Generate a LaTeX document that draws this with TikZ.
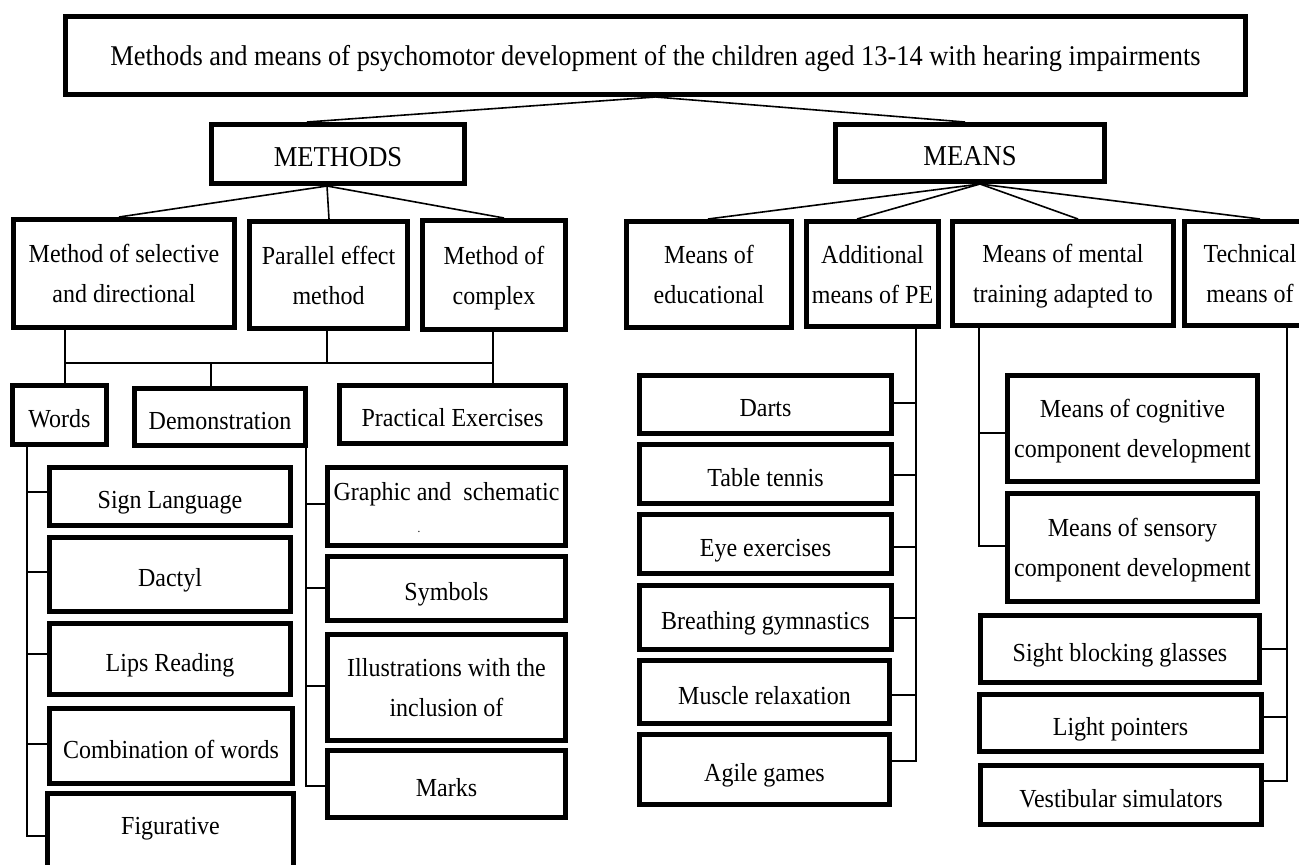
\documentclass[tikz,border=0pt]{standalone}
\usepackage{fontspec}
\setmainfont{Liberation Serif}[FakeStretch=0.923]
\usetikzlibrary{calc}
% box from outer pixel edges: options, name, x1, y1, x2, y2, text
\newcommand\bxnode[7][]{%
  \pgfmathsetmacro\bxX{(#3+#5)/2}\pgfmathsetmacro\bxY{(#4+#6)/2}%
  \pgfmathsetmacro\bxW{(#5-#3-5)*0.5}\pgfmathsetmacro\bxH{(#6-#4-5)*0.5}%
  \node[bx,minimum width=\bxW pt,minimum height=\bxH pt,#1] (#2) at (\bxX,\bxY) {#7};}
% branch: anchor, trunk x, y
\newcommand\brline[3]{\draw[ln] (#1 |- 0,#3) -- (#2,#3);}
\begin{document}
\begin{tikzpicture}[x=0.5pt,y=-0.5pt,
  bx/.style={draw,line width=2.5pt,inner sep=0pt,align=center,text depth=0pt,
    font=\fontsize{13}{20}\selectfont},
  one/.style={text height=12pt},
  head/.style={text height=12pt,font=\fontsize{14.4}{20}\selectfont},
  ln/.style={line width=0.8pt}]
\useasboundingbox (0,0) rectangle (1299,864);
\clip (0,0) rectangle (1299,864);
% top levels
\bxnode[text height=9.5pt,font=\fontsize{14.3}{20}\selectfont]{title}{63}{14}{1248}{97}{Methods and means of psychomotor development of the children aged 13-14 with hearing impairments}
\bxnode[head]{methods}{209}{122}{467}{186}{METHODS}
\bxnode[head]{means}{833}{122}{1107}{184}{MEANS}
% second row
\bxnode{sel}{11}{217}{237}{330}{Method of selective\\and directional}
\bxnode{par}{247}{219}{410}{331}{Parallel effect\\method}
\bxnode{cplx}{420}{218}{568}{332}{Method of\\complex}
\bxnode{edu}{624}{219}{794}{330}{Means of\\educational}
\bxnode{add}{804}{219}{941}{329}{Additional\\means of PE}
\bxnode{mental}{950}{219}{1176}{328}{Means of mental\\training adapted to}
\bxnode{tech}{1182}{219}{1318}{328}{Technical\\means of}
% third row
\bxnode[one]{words}{10}{383}{109}{447}{Words}
\bxnode[one]{demo}{132}{386}{308}{448}{Demonstration}
\bxnode[one]{pract}{337}{383}{568}{446}{Practical Exercises}
% words children
\bxnode[one]{sign}{47}{465}{293}{528}{Sign Language}
\bxnode[one]{dactyl}{47}{535}{293}{614}{Dactyl}
\bxnode[one]{lips}{47}{621}{293}{697}{Lips Reading}
\bxnode[one]{comb}{47}{706}{295}{786}{Combination of words}
\bxnode[text height=9pt,text depth=5.5pt]{fig}{45}{791}{296}{870}{Figurative}
% demonstration children
\bxnode[text height=8pt,text depth=14.5pt]{graphic}{325}{465}{568}{548}{Graphic and\ \ schematic}
\node[font=\fontsize{6}{6}\selectfont,inner sep=0pt] (gdot) at (419,532) {.};
\bxnode[one]{symbols}{325}{554}{568}{623}{Symbols}
\bxnode{illus}{325}{632}{568}{743}{Illustrations with the\\inclusion of}
\bxnode[one]{marks}{325}{748}{568}{820}{Marks}
% additional means children
\bxnode[one]{darts}{637}{373}{894}{436}{Darts}
\bxnode[one]{table}{637}{442}{894}{506}{Table tennis}
\bxnode[one]{eye}{637}{512}{894}{576}{Eye exercises}
\bxnode[one]{breath}{637}{583}{894}{652}{Breathing gymnastics}
\bxnode[one]{muscle}{637}{658}{892}{726}{Muscle relaxation}
\bxnode[one]{agile}{637}{732}{892}{807}{Agile games}
% mental training children
\bxnode{cog}{1005}{373}{1260}{484}{Means of cognitive\\component development}
\bxnode{sens}{1005}{491}{1260}{604}{Means of sensory\\component development}
% technical children
\bxnode[one]{sight}{978}{613}{1262}{685}{Sight blocking glasses}
\bxnode[one]{light}{977}{692}{1264}{754}{Light pointers}
\bxnode[one]{vest}{978}{763}{1264}{827}{Vestibular simulators}
% connectors: title
\draw[ln] (title.south) -- ([xshift=-15.5pt]methods.north);
\draw[ln] (title.south) -- ([xshift=-2.5pt]means.north);
% methods fan
\coordinate (ma) at ([xshift=-5.5pt]methods.south);
\draw[ln] (ma) -- (sel.north -| 119,0);
\draw[ln] (ma) -- (par.north -| 329,0);
\draw[ln] (ma) -- (cplx.north -| 504,0);
% means fan
\coordinate (na) at ([xshift=5pt]means.south);
\draw[ln] (na) -- (edu.north -| 708,0);
\draw[ln] (na) -- (add.north -| 857,0);
\draw[ln] (na) -- (mental.north -| 1078,0);
\draw[ln] (na) -- (tech.north -| 1260,0);
% methods bus
\coordinate (busL) at (65,363);
\coordinate (busR) at (493,363);
\coordinate (busM) at (327,363);
\coordinate (busD) at (211,363);
\draw[ln] (sel.south -| busL) -- (words.north -| busL);
\draw[ln] (busL) -- (busR);
\draw[ln] (par.south -| busM) -- (busM);
\draw[ln] (cplx.south -| busR) -- (pract.north -| busR);
\draw[ln] (busD) -- (demo.north -| busD);
% words tree
\draw[ln] (words.south -| 27,0) |- (fig.west |- 0,836);
\brline{sign.west}{27}{492}
\brline{dactyl.west}{27}{572}
\brline{lips.west}{27}{654}
\brline{comb.west}{27}{744}
% demonstration tree
\draw[ln] (demo.south -| 306,0) |- (marks.west |- 0,786);
\brline{graphic.west}{306}{504}
\brline{symbols.west}{306}{588}
\brline{illus.west}{306}{686}
% additional means tree
\draw[ln] (add.south -| 916,0) |- (agile.east |- 0,761);
\brline{darts.east}{916}{403}
\brline{table.east}{916}{475}
\brline{eye.east}{916}{547}
\brline{breath.east}{916}{618}
\brline{muscle.east}{916}{695}
% mental training tree
\draw[ln] (mental.south -| 979,0) |- (sens.west |- 0,546);
\brline{cog.west}{979}{433}
% technical tree
\draw[ln] (tech.south -| 1287,0) |- (vest.east |- 0,781);
\brline{sight.east}{1287}{649}
\brline{light.east}{1287}{717}
\end{tikzpicture}
\end{document}
